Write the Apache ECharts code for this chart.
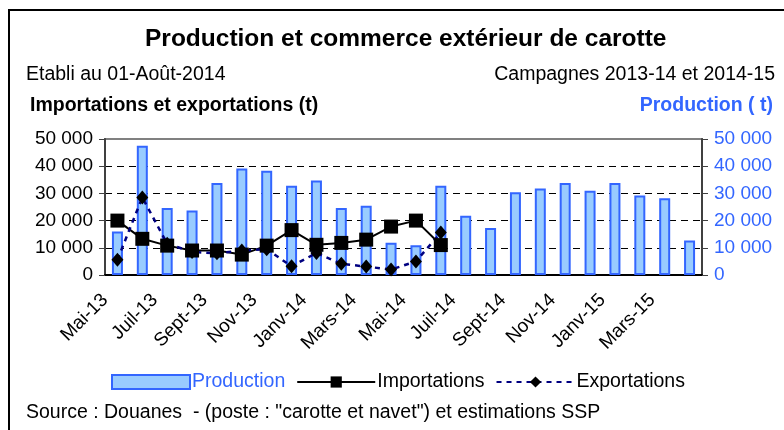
<!DOCTYPE html>
<html>
<head>
<meta charset="utf-8">
<script src="https://cdn.jsdelivr.net/npm/echarts@6/dist/echarts.min.js"></script>
<style>
  html, body { margin: 0; padding: 0; background: #fff; }
  #chart { width: 784px; height: 430px; }
</style>
</head>
<body>
<div id="chart"></div>
<script>
// mois de la campagne (une barre par mois)
const months = [
  'Mai-13', 'Juin-13', 'Juil-13', 'Août-13', 'Sept-13', 'Oct-13', 'Nov-13', 'Déc-13',
  'Janv-14', 'Févr-14', 'Mars-14', 'Avr-14', 'Mai-14', 'Juin-14', 'Juil-14', 'Août-14',
  'Sept-14', 'Oct-14', 'Nov-14', 'Déc-14', 'Janv-15', 'Févr-15', 'Mars-15', 'Avr-15'
];
// étiquettes posées sur les graduations (bords de mois), une sur deux
const tickLabels = [
  'Mai-13', '', 'Juil-13', '', 'Sept-13', '', 'Nov-13', '', 'Janv-14', '', 'Mars-14', '',
  'Mai-14', '', 'Juil-14', '', 'Sept-14', '', 'Nov-14', '', 'Janv-15', '', 'Mars-15', '', ''
];
const production = [
  16000, 47500, 24600, 23700, 33800, 39200, 38300, 32800, 34700, 24600, 25500, 11900,
  10900, 32800, 21800, 17300, 30400, 31800, 33800, 31000, 33800, 29200, 28200, 12700
];
const importations = [
  20000, 13300, 10800, 9000, 9000, 7500, 10800, 16500, 11100, 11800, 13000, 17800, 20000, 11000
];
const exportations = [
  5600, 28500, 11500, 8500, 8000, 9000, 9500, 3200, 8100, 4100, 3100, 2000, 5000, 15600
];

const FONT = "'Liberation Sans', Arial, sans-serif";
const BLUE = '#3366FF';

const fmt = function (v) {
  return v === 0 ? '0' : (v / 1000) + ' 000';
};

const chart = echarts.init(document.getElementById('chart'));

const option = {
  animation: false,
  textStyle: { fontFamily: FONT },
  title: [
    {
      text: 'Production et commerce extérieur de carotte',
      left: 140, top: 22,
      textStyle: { fontSize: 24.5, fontWeight: 'bold', color: '#000', fontFamily: FONT }
    },
    {
      text: 'Etabli au 01-Août-2014',
      left: 21, top: 60,
      textStyle: { fontSize: 19.5, fontWeight: 'normal', color: '#000', fontFamily: FONT }
    },
    {
      text: 'Campagnes 2013-14 et 2014-15',
      right: 4, top: 60,
      textStyle: { fontSize: 19.5, fontWeight: 'normal', color: '#000', fontFamily: FONT }
    },
    {
      text: 'Importations et exportations (t)',
      left: 25, top: 91,
      textStyle: { fontSize: 19.5, fontWeight: 'bold', color: '#000', fontFamily: FONT }
    },
    {
      text: 'Production ( t)',
      right: 6, top: 91,
      textStyle: { fontSize: 19.5, fontWeight: 'bold', color: BLUE, fontFamily: FONT }
    },
    {
      text: 'Source : Douanes  - (poste : "carotte et navet") et estimations SSP',
      left: 21, top: 398,
      textStyle: { fontSize: 19.5, fontWeight: 'normal', color: '#000', fontFamily: FONT }
    }
  ],
  graphic: [
    {
      type: 'rect',
      shape: { x: 9, y: 10, width: 800, height: 500 },
      style: { fill: 'none', stroke: '#000', lineWidth: 2 },
      silent: true
    }
  ],
  legend: {
    top: 367,
    left: 106,
    itemWidth: 78,
    itemHeight: 14,
    itemGap: 11,
    textStyle: { fontSize: 19.5, color: '#000', fontFamily: FONT, padding: [0, 0, 0, -3] },
    data: [
      { name: 'Production', icon: 'rect', textStyle: { color: BLUE } },
      'Importations',
      'Exportations'
    ]
  },
  grid: {
    left: 105, right: 82, top: 139, bottom: 155,
    show: true,
    borderColor: '#808080',
    borderWidth: 2
  },
  xAxis: [
    {
      type: 'category',
      data: months,
      boundaryGap: true,
      axisLine: { lineStyle: { color: '#000', width: 2 } },
      axisTick: { interval: 1, length: 7, lineStyle: { color: '#000', width: 1.5 } },
      axisLabel: { show: false }
    },
    {
      type: 'category',
      position: 'bottom',
      data: tickLabels,
      boundaryGap: false,
      axisLine: { show: false },
      axisTick: { show: false },
      axisLabel: {
        interval: 0,
        rotate: 45,
        margin: 22,
        fontSize: 19,
        color: '#000',
        fontFamily: FONT
      }
    }
  ],
  yAxis: [
    {
      type: 'value',
      min: 0, max: 50000, interval: 10000,
      axisLine: { show: true, lineStyle: { color: '#404040', width: 2 } },
      axisTick: { show: true, length: 6, lineStyle: { color: '#404040' } },
      axisLabel: { formatter: fmt, fontSize: 19, color: '#000', margin: 12, fontFamily: FONT },
      splitLine: {
        show: true, showMinLine: false, showMaxLine: false,
        lineStyle: { color: '#000', type: [7, 5], width: 1 }
      }
    },
    {
      type: 'value',
      min: 0, max: 50000, interval: 10000,
      axisLine: { show: true, lineStyle: { color: '#404040', width: 2 } },
      axisTick: { show: true, length: 6, lineStyle: { color: '#404040' } },
      axisLabel: { formatter: fmt, fontSize: 19, color: BLUE, margin: 12, fontFamily: FONT },
      splitLine: { show: false }
    }
  ],
  series: [
    {
      name: 'Production',
      type: 'bar',
      xAxisIndex: 0,
      yAxisIndex: 1,
      barWidth: 11,
      data: production,
      itemStyle: { color: '#99CCFF', borderColor: BLUE, borderWidth: 2 }
    },
    {
      name: 'Importations',
      type: 'line',
      xAxisIndex: 0,
      yAxisIndex: 0,
      data: importations,
      symbol: 'rect',
      symbolSize: 14,
      lineStyle: { color: '#000', width: 2 },
      itemStyle: { color: '#000' }
    },
    {
      name: 'Exportations',
      type: 'line',
      xAxisIndex: 0,
      yAxisIndex: 0,
      data: exportations,
      symbol: 'diamond',
      symbolSize: [12, 14],
      lineStyle: { color: '#000080', width: 2.5, type: [5, 5] },
      itemStyle: { color: '#000' }
    }
  ]
};

chart.setOption(option);
</script>
</body>
</html>
